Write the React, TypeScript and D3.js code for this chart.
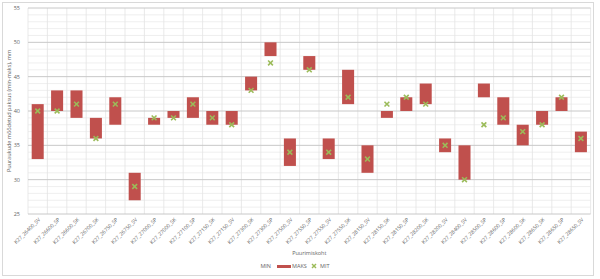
import React from "react";
import * as d3 from "d3";

const categories = [
  "K27_26400_SV", "K27_26600_SP", "K27_26600_SK", "K27_26700_SK", "K27_26750_SP",
  "K27_26750_SV", "K27_27000_SP", "K27_27000_SK", "K27_27100_SP", "K27_27150_SK",
  "K27_27150_SV", "K27_27300_SK", "K27_27300_SP", "K27_27500_SV", "K27_27550_SP",
  "K27_27550_SV", "K27_27550_SK", "K27_28150_SV", "K27_28150_SK", "K27_28150_SP",
  "K27_28200_SK", "K27_28200_SV", "K27_28400_SV", "K27_28500_SP", "K27_28600_SP",
  "K27_28600_SK", "K27_28650_SK", "K27_28650_SP", "K27_28650_SV",
];
const minValues = [33, 40, 39, 36, 38, 27, 38, 39, 39, 38, 38, 43, 48, 32, 46, 33, 41, 31, 39, 40, 41, 34, 30, 42, 38, 35, 38, 40, 34];
const maxValues = [41, 43, 43, 39, 42, 31, 39, 40, 42, 40, 40, 45, 50, 36, 48, 36, 46, 35, 40, 42, 44, 36, 35, 44, 42, 38, 40, 42, 37];
const avgValues = [40, 40, 41, 36, 41, 29, 39, 39, 41, 39, 38, 43, 47, 34, 46, 34, 42, 33, 41, 42, 41, 35, 30, 38, 39, 37, 38, 42, 36];
const yTicks = [25, 30, 35, 40, 45, 50, 55];

const BAR = "#c0504d";
const MARK = "#9bbb59";
const FONT = "Open Sans, Liberation Sans, sans-serif";

export default function App() {
  const W = 600, H = 279;
  const left = 28, right = 590.6, top = 8, bottom = 214;
  const x = d3.scaleBand<string>().domain(categories).range([left, right]).paddingInner(0.38).paddingOuter(0.19);
  const xg = d3.scaleBand<string>().domain(categories).range([left, right]);
  const y = d3.scaleLinear().domain([25, 55]).range([bottom, top]);
  const minor = d3.range(25, 56, 1).filter((v) => v % 5 !== 0);
  const ms = 2.4;
  return (
    <svg width={W} height={H} style={{ position: "absolute", left: 0, top: 0, display: "block" }}>
      <rect x={0} y={0} width={W} height={H} fill="#fff" />
      <rect x={2.5} y={2.5} width={591} height={273} fill="none" stroke="#d9d9d9" strokeWidth={1} />
      {minor.map((v) => (
        <line key={"m" + v} x1={left} x2={right} y1={y(v)} y2={y(v)} stroke="#ebebeb" strokeWidth={0.8} />
      ))}
      {categories.map((c) => (
        <line key={"v" + c} x1={xg(c)!} x2={xg(c)!} y1={top} y2={bottom} stroke="#e3e3e3" strokeWidth={0.8} />
      ))}
      <line x1={right} x2={right} y1={top} y2={bottom} stroke="#e3e3e3" strokeWidth={0.8} />
      {yTicks.map((v) => (
        <g key={"t" + v}>
          <line x1={left} x2={right} y1={y(v)} y2={y(v)} stroke="#c8c8c8" strokeWidth={1} />
          <text x={20} y={y(v)} dy="0.35em" textAnchor="end" fontSize={5.5} fill="#666" fontFamily={FONT}>{v}</text>
        </g>
      ))}
      {categories.map((c, i) => (
        <rect key={"b" + c} x={x(c)!} width={x.bandwidth()} y={y(maxValues[i])} height={y(minValues[i]) - y(maxValues[i])} fill={BAR} />
      ))}
      {categories.map((c, i) => {
        const cx = x(c)! + x.bandwidth() / 2;
        const cy = y(avgValues[i]);
        return (
          <g key={"a" + c} stroke={MARK} strokeWidth={1.6}>
            <line x1={cx - ms} y1={cy - ms} x2={cx + ms} y2={cy + ms} />
            <line x1={cx - ms} y1={cy + ms} x2={cx + ms} y2={cy - ms} />
          </g>
        );
      })}
      {categories.map((c) => {
        const cx = xg(c)! + xg.bandwidth() / 2 + 3;
        return (
          <text key={"x" + c} transform={`translate(${cx},${bottom + 6}) rotate(-45)`} textAnchor="end" fontSize={5.2} fill="#666" fontFamily={FONT}>{c}</text>
        );
      })}
      <text transform={`translate(11,${(top + bottom) / 2}) rotate(-90)`} textAnchor="middle" fontSize={5.5} fill="#666" fontFamily={FONT}>Puuraukude mõõdetud paksus (min-maks), mm</text>
      <text x={(left + right) / 2} y={255} textAnchor="middle" fontSize={5.5} fill="#666" fontFamily={FONT}>Puurimiskoht</text>
      <g fontSize={5.5} fill="#666" fontFamily={FONT}>
        <text x={271} y={268} textAnchor="end">MIN</text>
        <rect x={277} y={265} width={14} height={3} fill={BAR} />
        <text x={292} y={268}>MAKS</text>
        <g stroke={MARK} strokeWidth={1.4}>
          <line x1={312} y1={264} x2={316} y2={268} />
          <line x1={312} y1={268} x2={316} y2={264} />
        </g>
        <text x={320} y={268}>MIT</text>
      </g>
    </svg>
  );
}
